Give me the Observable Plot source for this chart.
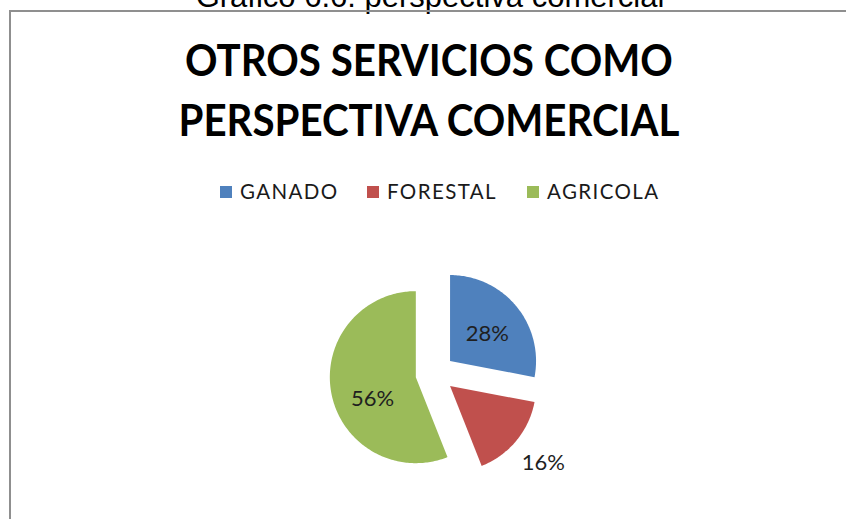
<!DOCTYPE html>
<html>
<head>
<meta charset="utf-8">
<script src="https://cdn.jsdelivr.net/npm/d3@7"></script>
<script src="https://cdn.jsdelivr.net/npm/@observablehq/plot@0.6"></script>
<style>
  html, body { margin: 0; padding: 0; background: #fff; }
  #wrap { position: relative; width: 846px; height: 519px; overflow: hidden; background: #fff; }
  #caption { position: absolute; left: 0; width: 860px; top: -19px; text-align: center;
    font: 31px/31px "Liberation Sans", Arial, sans-serif; color: #000; white-space: nowrap; }
  #frame { position: absolute; left: 9px; top: 10px; width: 900px; height: 600px;
    border-left: 2px solid #8f8f8f; border-top: 2px solid #8f8f8f; }
  #title { position: absolute; left: 11px; width: 835px; top: 29px; text-align: center;
    font: 700 44px/60px Lato, sans-serif; color: #000; white-space: nowrap;
    transform: scaleX(0.915); transform-origin: 423px 0; }
  #legend { position: absolute; left: 0; top: 181px; width: 846px; height: 20px; }
  .item { position: absolute; top: 0; font: 20.5px/20px Lato, sans-serif; letter-spacing: 1.4px;
    color: #1a1a1a; white-space: nowrap; }
  .sw { position: absolute; top: 5px; width: 12px; height: 12px; }
  #chart { position: absolute; left: 0; top: 0; }
</style>
</head>
<body>
<div id="wrap">
  <div id="caption">Gráfico 6.6: perspectiva comercial</div>
  <div id="frame"></div>
  <div id="title">OTROS SERVICIOS COMO<br>PERSPECTIVA COMERCIAL</div>
  <div id="legend"></div>
  <div id="chart"></div>
</div>
<script>
// ---- data ----
const categories = ["GANADO", "FORESTAL", "AGRICOLA"];
const values = [28, 16, 56];
const percentLabels = ["28%", "16%", "56%"];
const colors = ["#4F81BD", "#C0504D", "#9BBB59"];

// ---- layout (not data) ----
const cx = 434.5, cy = 373, r = 86;
const explode = 0.227;                 // in radius units
const labelPlacement = {               // [angle deg from north clockwise, radius factor]
  GANADO: [53.6, 0.54],
  FORESTAL: [129.7, 1.41],
  AGRICOLA: [243.7, 0.56]
};
const legendPos = [220, 367, 527];

// ---- build slices ----
const total = d3.sum(values);
const rad = Math.PI / 180;
let start = 0;
const points = [];
const labelRows = [];
categories.forEach((cat, i) => {
  const sweep = values[i] / total * 360;
  const a0 = start, a1 = start + sweep, mid = (a0 + a1) / 2;
  const ox = explode * Math.sin(mid * rad), oy = explode * Math.cos(mid * rad);
  points.push({cat, x: ox, y: oy});
  const n = Math.max(2, Math.ceil(sweep));
  for (let k = 0; k <= n; k++) {
    const a = (a0 + (a1 - a0) * k / n) * rad;
    points.push({cat, x: ox + Math.sin(a), y: oy + Math.cos(a)});
  }
  points.push({cat, x: ox, y: oy});
  const [la, lr] = labelPlacement[cat];
  labelRows.push({cat, text: percentLabels[i],
    x: ox + lr * Math.sin(la * rad), y: oy + lr * Math.cos(la * rad)});
  start = a1;
});

const chart = Plot.plot({
  width: 846, height: 519,
  margin: 0,
  style: {background: "transparent", overflow: "visible"},
  x: {domain: [-1, 1], range: [cx - r, cx + r], axis: null},
  y: {domain: [-1, 1], range: [cy + r, cy - r], axis: null},
  color: {domain: categories, range: colors},
  marks: [
    Plot.line(points, {x: "x", y: "y", z: "cat", fill: "cat", stroke: "none", curve: "linear"}),
    Plot.text(labelRows, {x: "x", y: "y", text: "text", fill: "#1f1f1f",
      fontSize: 22, fontFamily: "Lato, sans-serif"})
  ]
});
document.getElementById("chart").appendChild(chart);

// legend
const legend = document.getElementById("legend");
categories.forEach((cat, i) => {
  const item = document.createElement("div");
  item.className = "item";
  item.style.left = legendPos[i] + "px";
  item.style.paddingLeft = "20px";
  const sw = document.createElement("div");
  sw.className = "sw";
  sw.style.left = "0px";
  sw.style.background = colors[i];
  item.appendChild(sw);
  item.appendChild(document.createTextNode(cat));
  legend.appendChild(item);
});
</script>
</body>
</html>
